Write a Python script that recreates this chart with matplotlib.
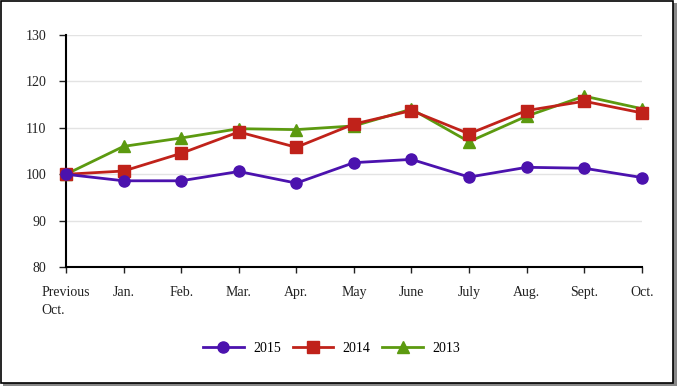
import matplotlib.pyplot as plt
from matplotlib.patches import Rectangle

months = ["Previous\nOct.", "Jan.", "Feb.", "Mar.", "Apr.", "May", "June",
          "July", "Aug.", "Sept.", "Oct."]
y2015 = [100, 98.6, 98.6, 100.6, 98.1, 102.5, 103.2, 99.4, 101.5, 101.3, 99.3]
y2014 = [100, 100.7, 104.5, 109.1, 105.8, 110.8, 113.7, 108.7, 113.7, 115.7, 113.2]
y2013 = [100, 106.0, 107.8, 109.8, 109.6, 110.4, 114.0, 107.0, 112.5, 116.8, 114.1]

plt.rcParams['font.family'] = ['Liberation Serif', 'DejaVu Serif']

fig = plt.figure(figsize=(6.77, 3.86), dpi=100)
ax = fig.add_axes([0.0975, 0.3075, 0.8505, 0.6025])

x = range(len(months))
ax.plot(x, y2015, color='#4B12AE', lw=2, marker='o', ms=8, clip_on=False, zorder=5, label='2015')
ax.plot(x, y2014, color='#C0221A', lw=2, marker='s', ms=8, clip_on=False, zorder=4, label='2014')
ax.plot(x, y2013, color='#5C9A10', lw=2, marker='^', ms=8, clip_on=False, zorder=3, label='2013')

ax.set_xlim(0, len(months) - 1)
ax.set_ylim(80, 130)
ax.set_yticks(range(80, 131, 10))
ax.set_xticks(list(x))
ax.set_xticklabels(months, multialignment='left', linespacing=1.45)

for v in range(90, 131, 10):
    ax.axhline(v, color='#e3e3e3', lw=1, zorder=0)

for s in ['top', 'right']:
    ax.spines[s].set_visible(False)
ax.spines['left'].set_linewidth(1.5)
ax.spines['bottom'].set_linewidth(1.5)
ax.tick_params(axis='y', length=5, width=1, pad=9, labelsize=10, colors='#222222')
ax.tick_params(axis='x', length=4.5, width=1, pad=9, labelsize=10, colors='#222222')

leg = fig.legend(loc='center', bbox_to_anchor=(0.49, 0.098), ncol=3, frameon=False,
                 fontsize=10, handlelength=2.9, handletextpad=0.7, columnspacing=0.85)

# outer frame with shadow
fig.patches.append(Rectangle((0.004, 0.0), 0.996, 0.992, transform=fig.transFigure,
                             facecolor='#888888', edgecolor='none', zorder=-2))
fig.patches.append(Rectangle((0.001, 0.008), 0.993, 0.99, transform=fig.transFigure,
                             facecolor='white', edgecolor='black', lw=1.2, zorder=-1))

fig.savefig('out.png', dpi=100)
